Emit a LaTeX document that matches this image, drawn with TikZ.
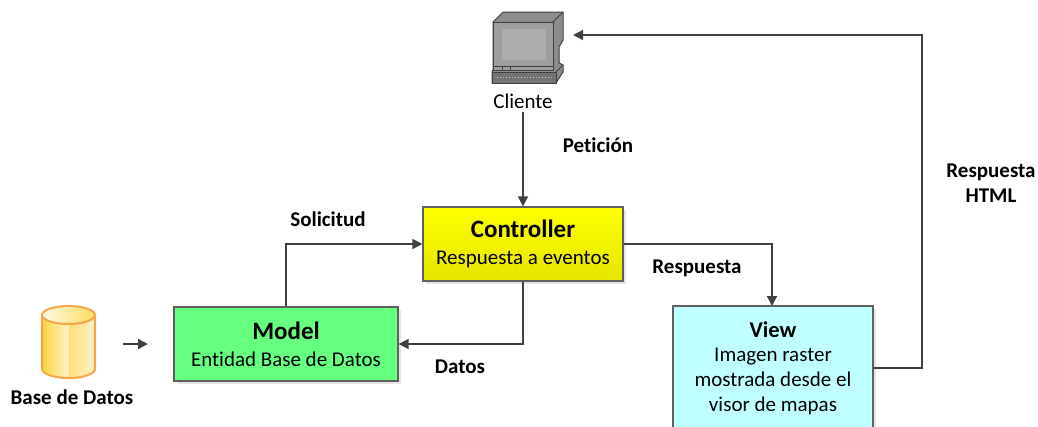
\documentclass[tikz,border=0pt]{standalone}
\usepackage{fontspec}
\setmainfont[Ligatures=NoCommon]{Carlito}
\usetikzlibrary{positioning, calc, shadows, arrows.meta}
\definecolor{linegray}{HTML}{404040}
\definecolor{boxgray}{HTML}{5F5F5F}
\definecolor{modelgreen}{HTML}{66FF80}
\definecolor{viewcyan}{HTML}{BFFFFF}
\definecolor{dborange}{HTML}{F5A54A}
\definecolor{dbgold}{HTML}{FBD43E}
\definecolor{dbmid}{HTML}{FDDF7A}
\definecolor{dbpale}{HTML}{FFF3C4}
\tikzset{arr/.style={draw=linegray, line width=1.4pt, -{Triangle[length=10pt, width=10pt]}}}
\tikzset{dpad/.style={draw=boxgray, line width=1.2pt, align=center, minimum width=200pt, inner sep=0pt, font=\fontsize{21}{24.8}\selectfont, drop shadow={shadow xshift=3pt, shadow yshift=-3pt, fill=black!10, opacity=1}}}
\tikzset{lbl/.style={font=\fontsize{21}{25}\bfseries\selectfont, align=center}}
\newcommand{\boxtitle}[1]{{\fontsize{25}{29}\bfseries\selectfont #1}}
\begin{document}
\begin{tikzpicture}[x=1pt, y=-1pt]
	\useasboundingbox (0,0) rectangle (1038,426);
	% boxes
	\node[dpad, minimum height=74pt, top color=yellow, bottom color=yellow!90!black] (controller) at (523,244)
		{\boxtitle{Controller}\\[2pt]Respuesta a eventos};
	\node[dpad, minimum width=224pt, minimum height=74pt, fill=modelgreen] (model) at (286,344)
		{\boxtitle{Model}\\[2pt]Entidad Base de Datos};
	\node[dpad, minimum height=124pt, fill=viewcyan] (view) at (773,368)
		{{\fontsize{22.5}{25}\bfseries\selectfont View}\\Imagen raster\\mostrada desde el\\visor de mapas};
	% cliente
	\draw[black!75, line width=1pt, fill=black!45] (493,22) -- (503,12) -- (563,12) -- (563,40) -- (559,47) -- (559,63) -- (563,65) -- (563,72) -- (556,83) -- (492,83) -- (492,72) -- (493,70) -- cycle;
	\draw[black!75, line width=1pt, fill=black!38] (493,22) rectangle (553,70);
	\fill[black!32] (502,29) rectangle (546,60);
	\draw[black!75, line width=0.8pt] (493,66) -- (553,66) (502,66) -- (502,70) (510,66) -- (510,70);
	\draw[black!75, line width=0.8pt, fill=black!55] (492,72) rectangle (556,83);
	\draw[black!75, line width=0.8pt] (553,22) -- (563,12) (556,72) -- (563,65);
	\draw[black!20, line width=1pt, dotted] (497,77) -- (553,77);
	\node[font=\fontsize{21}{25}\selectfont] (cliente) at (523,101) {Cliente};
	\coordinate (pc) at (573,35);
	% base de datos
	\path[left color=dbgold, right color=dbpale] (42,315) -- (42,369) arc[start angle=180, end angle=270, x radius=26.5, y radius=-9] -- (68.5,315) -- cycle;
	\path[left color=dbmid, right color=dbpale] (68.5,315) -- (68.5,378) arc[start angle=270, end angle=360, x radius=26.5, y radius=-9] -- (95,315) -- cycle;
	\draw[dborange, line width=2pt] (42,315) -- (42,369) arc[start angle=180, end angle=360, x radius=26.5, y radius=-9] -- (95,315);
	\draw[dborange, line width=2pt, left color=dbpale!50!white, right color=dbgold!80!white] (68.5,315) ellipse[x radius=26.5, y radius=9];
	\node[lbl] (db) at (72,397) {Base de Datos};
	\coordinate (dbout) at (123,344);
	\coordinate (modelin) at (148,344);
	% flechas
	\draw[arr] (cliente.south) -- (controller.north);
	\draw[arr] (model.north) |- (controller.west);
	\draw[arr] (controller.south) |- (model.east);
	\draw[arr] (controller.east) -| (772,306);
	\draw[arr] (view.east) -- (922,368) |- (pc);
	\draw[arr] (dbout) -- (modelin);
	% etiquetas
	\node[lbl] (peticion) at (598,145) {Petición};
	\node[lbl] (solicitud) at (328,219) {Solicitud};
	\node[lbl] (respuesta) at (697,268) {Respuesta};
	\node[lbl] (datos) at (460,367) {Datos};
	\node[lbl] (html) at (991,183) {Respuesta\\HTML};
\end{tikzpicture}
\end{document}
